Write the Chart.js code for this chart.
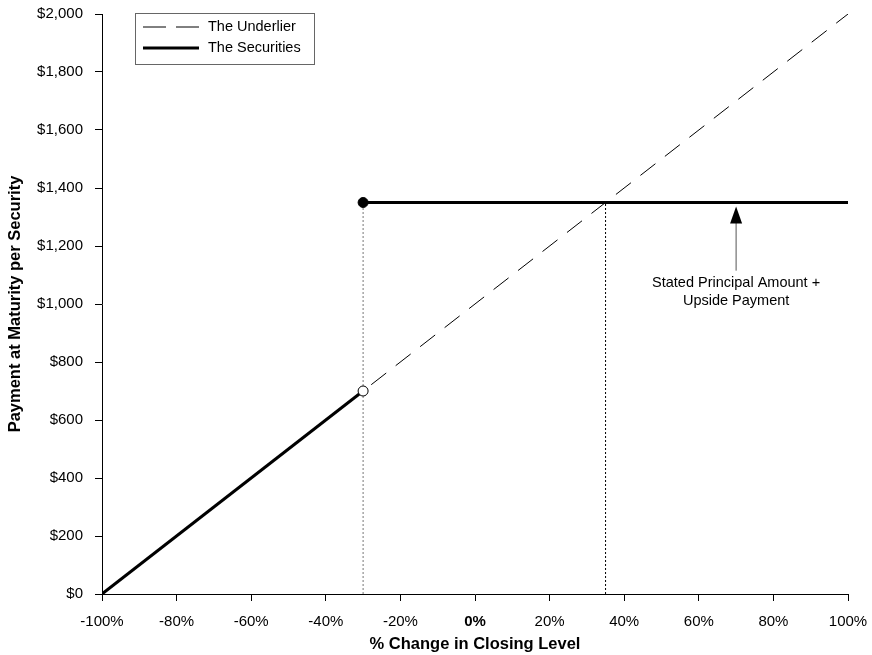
<!DOCTYPE html>
<html>
<head>
<meta charset="utf-8">
<script src="https://cdn.jsdelivr.net/npm/chart.js@4"></script>
<style>
  html, body { margin: 0; padding: 0; background: #fff; }
  #wrap { width: 872px; height: 655px; }
</style>
</head>
<body>
<div id="wrap"><canvas id="graph"></canvas></div>
<script>
// Payoff data (x = % change in closing level, y = payment per security)
var underlierX = [-100, 100];
var underlierY = [0, 2000];
var downsideX = [-100, -30];
var downsideY = [0, 700];
var upsideX = [-30, 100];
var upsideY = [1350, 1350];
var thresholdX = -30;
var breakevenX = 35;
var capLevel = 1350;
var arrowX = 70;
var arrowBottom = 1115;
var noteLines = ['Stated Principal Amount +', 'Upside Payment'];

var FONT = '"Liberation Sans", Arial, sans-serif';

function pts(xs, ys) {
    return xs.map(function (x, i) { return { x: x, y: ys[i] }; });
}

// Legend box drawn inside the plot area plus the arrow note
var extras = {
    id: 'extras',
    afterDatasetsDraw: function (chart) {
        var c = chart.ctx, a = chart.chartArea;
        var xs = chart.scales.x, ys = chart.scales.y;

        // arrow
        var ax = xs.getPixelForValue(arrowX);
        var tip = ys.getPixelForValue(capLevel) + 4;
        var bot = ys.getPixelForValue(arrowBottom);
        c.save();
        c.strokeStyle = '#555';
        c.lineWidth = 1;
        c.beginPath();
        c.moveTo(ax, bot);
        c.lineTo(ax, tip + 14);
        c.stroke();
        c.fillStyle = '#000';
        c.beginPath();
        c.moveTo(ax, tip);
        c.lineTo(ax - 6, tip + 17);
        c.lineTo(ax + 6, tip + 17);
        c.closePath();
        c.fill();
        c.font = '14.5px ' + FONT;
        c.textAlign = 'center';
        c.textBaseline = 'middle';
        noteLines.forEach(function (t, i) {
            c.fillText(t, ax, bot + 12 + i * 18);
        });

        // legend
        var lx = a.left + 33, ly = a.top - 1;
        c.fillStyle = '#fff';
        c.fillRect(lx, ly, 179, 51);
        c.strokeStyle = '#666';
        c.strokeRect(lx + 0.5, ly + 0.5, 179, 51);
        var items = chart.data.datasets.filter(function (d) { return d.legend; });
        items.sort(function (p, q) { return p.legend - q.legend; });
        items.forEach(function (d, i) {
            var yy = ly + 14 + i * 21;
            c.strokeStyle = '#000';
            c.lineWidth = d.borderWidth;
            c.setLineDash(d.borderDash ? [23, 10] : []);
            c.beginPath();
            c.moveTo(lx + 8, yy);
            c.lineTo(lx + 64, yy);
            c.stroke();
            c.setLineDash([]);
            c.fillStyle = '#000';
            c.textAlign = 'left';
            c.fillText(d.label, lx + 73, yy);
        });
        c.restore();
    }
};

new Chart(document.getElementById('graph'), {
    type: 'scatter',
    data: {
        datasets: [
            {
                label: 'The Securities', legend: 2, order: 1,
                data: pts(upsideX, upsideY), showLine: true,
                borderColor: '#000', borderWidth: 3,
                pointRadius: [5, 0], pointBackgroundColor: '#000',
                pointBorderColor: '#000', pointBorderWidth: 1
            },
            {
                label: 'downside', order: 1,
                data: pts(downsideX, downsideY), showLine: true,
                borderColor: '#000', borderWidth: 3,
                pointRadius: [0, 5], pointBackgroundColor: '#fff',
                pointBorderColor: '#000', pointBorderWidth: 1
            },
            {
                label: 'The Underlier', legend: 1, order: 3,
                data: pts(underlierX, underlierY), showLine: true,
                borderColor: '#000', borderWidth: 1, borderDash: [19, 12],
                pointRadius: 0
            },
            {
                label: 'threshold', order: 4,
                data: pts([thresholdX, thresholdX], [0, capLevel]), showLine: true,
                borderColor: '#777', borderWidth: 1, borderDash: [2, 2],
                pointRadius: 0
            },
            {
                label: 'breakeven', order: 4,
                data: pts([breakevenX, breakevenX], [0, capLevel]), showLine: true,
                borderColor: '#000', borderWidth: 1, borderDash: [2, 2],
                pointRadius: 0
            }
        ]
    },
    options: {
        responsive: true,
        maintainAspectRatio: false,
        animation: false,
        layout: { padding: { top: 14, right: 24, left: 0, bottom: 0 } },
        plugins: { legend: { display: false }, tooltip: { enabled: false } },
        scales: {
            x: {
                type: 'linear', min: -100, max: 100,
                afterFit: function (s) { s.height = 61; s.paddingLeft = 0; s.paddingRight = 0; },
                ticks: {
                    stepSize: 20, color: '#000', padding: 12,
                    font: function (ctx) {
                        return { family: FONT, size: 15, weight: ctx.tick && ctx.tick.value === 0 ? 'bold' : 'normal' };
                    },
                    callback: function (v) { return v + '%'; }
                },
                grid: { drawOnChartArea: false, tickLength: 7, color: '#000' },
                border: { color: '#000', width: 1 },
                title: {
                    display: true, text: '% Change in Closing Level', color: '#000',
                    font: { family: FONT, size: 16.5, weight: 'bold' }, padding: { top: 2, bottom: 1 }
                }
            },
            y: {
                min: 0, max: 2000,
                afterFit: function (s) { s.width = 102; s.paddingTop = 0; s.paddingBottom = 0; },
                ticks: {
                    stepSize: 200, color: '#000', padding: 12,
                    font: { family: FONT, size: 15 },
                    callback: function (v) { return '$' + v.toLocaleString('en-US'); }
                },
                grid: { drawOnChartArea: false, tickLength: 7, color: '#000' },
                border: { color: '#000', width: 1 },
                title: {
                    display: true, text: 'Payment at Maturity per Security', color: '#000',
                    font: { family: FONT, size: 16.5, weight: 'bold' }, padding: { top: 6, bottom: 2 }
                }
            }
        }
    },
    plugins: [extras]
});
</script>
</body>
</html>
